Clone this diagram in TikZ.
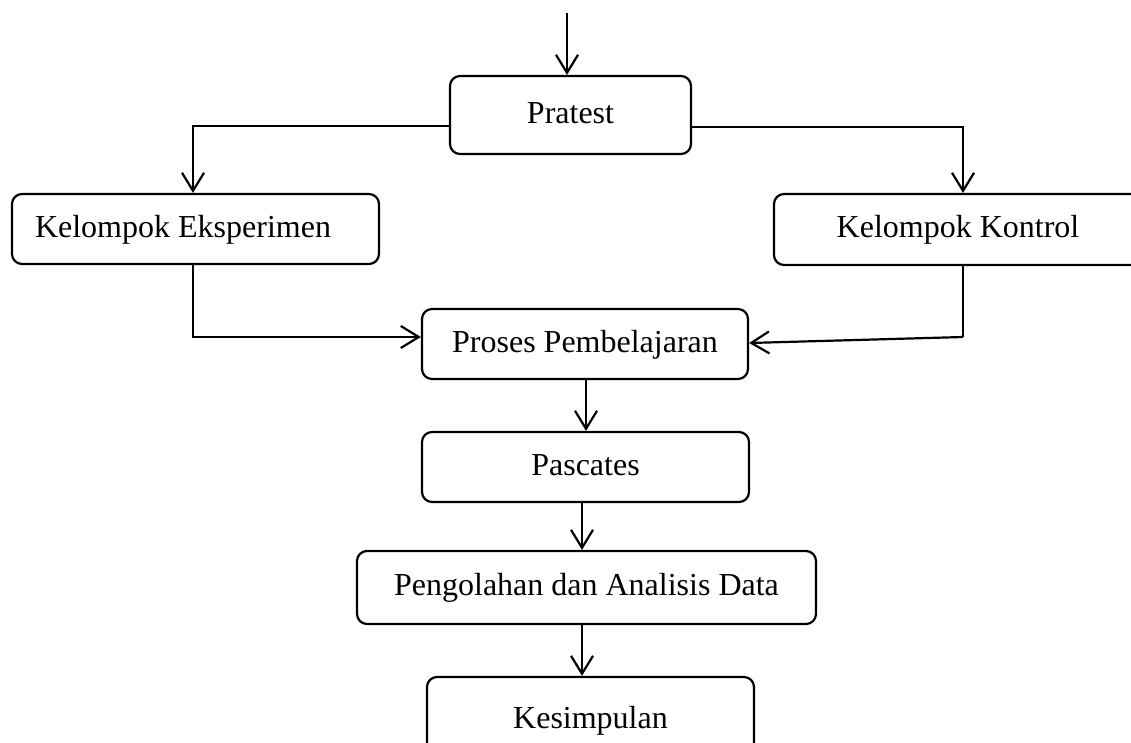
\documentclass[tikz,border=0pt]{standalone}
\usepackage{fontspec}
\setmainfont{Liberation Serif}
\usetikzlibrary{arrows.meta}
\begin{document}
\begin{tikzpicture}[x=1pt,y=-1pt,
  box/.style={draw, line width=2.2pt, rounded corners=10pt, inner sep=0pt,
    font=\fontsize{32}{38}\selectfont, text height=24pt, text depth=8pt, align=center},
  arr/.style={line width=2.2pt, -{Straight Barb[length=18pt,width=22pt]}},
  ln/.style={line width=2.2pt}]
\useasboundingbox (0,0) rectangle (1131,742);
\clip (0,0) rectangle (1131,742);
\node[box, minimum width=241pt, minimum height=78pt] (pr) at (570.5,115) {Pratest};
\node[box, minimum width=367pt, minimum height=70pt] (ke) at (195.5,229) {Kelompok Eksperimen\hspace{25pt}};
\node[box, minimum width=368pt, minimum height=71pt] (kk) at (958,229.5) {Kelompok Kontrol};
\node[box, minimum width=326pt, minimum height=70pt] (pp) at (585,344) {Proses Pembelajaran};
\node[box, minimum width=327pt, minimum height=70pt] (ps) at (585.5,467) {Pascates};
\node[box, minimum width=459pt, minimum height=73pt] (pg) at (586.5,587.5) {Pengolahan dan Analisis Data};
\node[box, minimum width=327pt, minimum height=86pt] (ks) at (590.5,720) {Kesimpulan};
\coordinate (start) at (567,13);
\coordinate (kkbend) at (963,337);
\draw[arr] (start) -- (start |- pr.north);
\draw[arr] (pr.west |- 0,126) -| (ke.north -| 193,0);
\draw[arr] (pr.east |- 0,127) -| (kk.north -| 963,0);
\draw[arr] (ke.south -| 193,0) |- (pp.west |- 0,337);
\draw[ln] (kk.south -| 963,0) -- (kkbend);
\draw[arr] (kkbend) -- (pp.east |- 0,343);
\draw[arr] (pp.south -| 586,0) -- (ps.north -| 586,0);
\draw[arr] (ps.south -| 582,0) -- (pg.north -| 582,0);
\draw[arr] (pg.south -| 582,0) -- (ks.north -| 582,0);
\end{tikzpicture}
\end{document}
